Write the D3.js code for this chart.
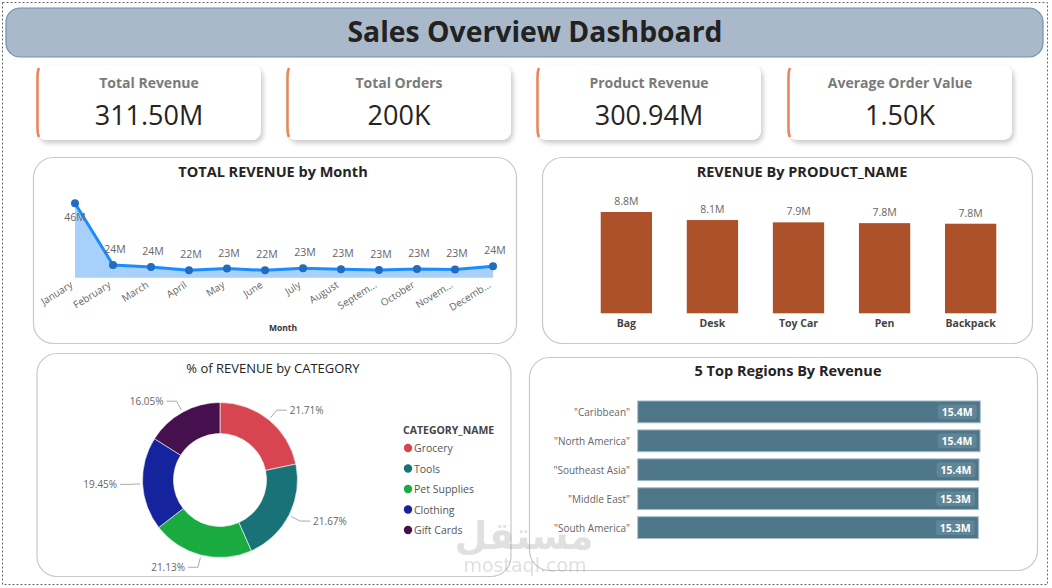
<!DOCTYPE html>
<html><head><meta charset="utf-8">
<script src="https://cdn.jsdelivr.net/npm/d3@7"></script>
<style>
html,body{margin:0;padding:0;background:#fff;}
svg{display:block;font-family:"Open Sans","Noto Sans",sans-serif;}
</style></head>
<body><svg id="c" width="1052" height="588"></svg>
<script>
// ---------- DATA ----------
const kpiTitles = ["Total Revenue", "Total Orders", "Product Revenue", "Average Order Value"];
const kpiValues = ["311.50M", "200K", "300.94M", "1.50K"];

const months = ["January","February","March","April","May","June","July","August","Septem...","October","Novem...","Decemb..."];
const monthRevenue = [46.0, 24.3, 23.6, 22.4, 23.0, 22.4, 23.1, 22.8, 22.5, 22.9, 22.7, 23.8]; // millions

const products = ["Bag","Desk","Toy Car","Pen","Backpack"];
const productRevenue = [8.81, 8.11, 7.91, 7.84, 7.79]; // millions

const categories = ["Grocery","Tools","Pet Supplies","Clothing","Gift Cards"];
const categoryShare = [21.71, 21.67, 21.13, 19.45, 16.05]; // percent
const categoryColors = ["#d64550","#197278","#1aab40","#15239c","#46104f"];

const regions = ["\"Caribbean\"","\"North America\"","\"Southeast Asia\"","\"Middle East\"","\"South America\""];
const regionRevenue = [15.42, 15.41, 15.36, 15.34, 15.33]; // millions

// ---------- DRAW ----------
const svg = d3.select("#c");
const defs = svg.append("defs");
const sh = defs.append("filter").attr("id","shadow").attr("x","-10%").attr("y","-10%").attr("width","130%").attr("height","140%");
sh.append("feDropShadow").attr("dx",2).attr("dy",3).attr("stdDeviation",2.5).attr("flood-color","#000").attr("flood-opacity",0.22);

// outer dotted frame
svg.append("rect").attr("x",2.5).attr("y",2.5).attr("width",1045).attr("height",582)
  .attr("fill","none").attr("stroke","#666").attr("stroke-dasharray","2,2");

// title bar
svg.append("rect").attr("x",6).attr("y",8).attr("width",1037).attr("height",49).attr("rx",14)
  .attr("fill","#aab9c9").attr("stroke","#6f90b3").attr("stroke-width",1.2);
svg.append("text").attr("x",535).attr("y",42).attr("text-anchor","middle")
  .attr("font-size",28).attr("font-weight",700).attr("fill","#222").attr("textLength",375)
  .attr("lengthAdjust","spacingAndGlyphs").text("Sales Overview Dashboard");

// KPI cards
const cardX = [37, 287, 537, 788];
kpiTitles.forEach((t,i)=>{
  const g = svg.append("g").attr("transform",`translate(${cardX[i]},65)`);
  g.append("rect").attr("width",224).attr("height",75).attr("rx",9).attr("fill","#fff").attr("filter","url(#shadow)");
  g.append("path").attr("d","M2,3 Q0.5,6 0.5,12 L0.5,63 Q0.5,69 2,72").attr("fill","none").attr("stroke","#e8855a").attr("stroke-width",2.5);
  g.append("text").attr("x",112).attr("y",23).attr("text-anchor","middle").attr("font-size",14)
    .attr("font-weight",700).attr("fill","#7a7a7a").text(t);
  g.append("text").attr("x",112).attr("y",60).attr("text-anchor","middle").attr("font-size",27)
    .attr("fill","#252423").text(kpiValues[i]);
});

function panel(x,y,w,h){
  svg.append("rect").attr("x",x).attr("y",y).attr("width",w).attr("height",h).attr("rx",20)
    .attr("fill","#fff").attr("stroke","#c8c8c8").attr("stroke-width",1.2);
}
function title(x,y,t,bold,size){
  svg.append("text").attr("x",x).attr("y",y).attr("text-anchor","middle").attr("font-size",size||14.5)
    .attr("font-weight",bold?700:400).attr("fill","#252423").text(t);
}

// ---- Line / area chart ----
panel(33.5,157.5,483,186);
title(273,177,"TOTAL REVENUE by Month",true);
const xl = d3.scalePoint().domain(months).range([75,493]);
const yl = d3.scaleLinear().domain([19.8,46]).range([277.7,203.3]);
const area = d3.area().x((d,i)=>xl(months[i])).y0(yl(19.8)).y1(d=>yl(d));
const line = d3.line().x((d,i)=>xl(months[i])).y(d=>yl(d));
svg.append("path").datum(monthRevenue).attr("d",area).attr("fill","#a7d1fb");
svg.append("path").datum(monthRevenue).attr("d",line).attr("fill","none").attr("stroke","#1a8cff").attr("stroke-width",3);
svg.append("g").selectAll("circle").data(monthRevenue).join("circle")
  .attr("cx",(d,i)=>xl(months[i])).attr("cy",d=>yl(d)).attr("r",4).attr("fill","#1f6cc0");
svg.append("g").selectAll("text").data(monthRevenue).join("text")
  .attr("x",(d,i)=>i===0?xl(months[i]):xl(months[i])+2)
  .attr("y",(d,i)=>i===0?yl(d)+18:yl(d)-12)
  .attr("text-anchor","middle").attr("font-size",10.5).attr("fill","#666")
  .text(d=>Math.round(d)+"M");
const xAxis = svg.append("g").attr("transform","translate(0,277.7)")
  .call(d3.axisBottom(xl).tickSize(0).tickPadding(0));
xAxis.select(".domain").remove();
xAxis.selectAll("text").attr("font-size",10).attr("fill","#666").attr("font-family","Open Sans, sans-serif")
  .attr("text-anchor","end").attr("dy",0).attr("transform","translate(-2,9) rotate(-32)");
svg.append("text").attr("x",283).attr("y",331).attr("text-anchor","middle").attr("font-size",8.5)
  .attr("font-weight",700).attr("fill","#333").text("Month");

// ---- Product bar chart ----
panel(542.5,157.5,490,186);
title(802,177,"REVENUE By PRODUCT_NAME",true);
const xb = d3.scaleBand().domain(products).range([583.5,1013.5]).paddingInner(0.404).paddingOuter(0.2);
const yb = d3.scaleLinear().domain([0,8.81]).range([313.3,212]);
svg.append("g").selectAll("rect").data(productRevenue).join("rect")
  .attr("x",(d,i)=>xb(products[i])).attr("width",xb.bandwidth())
  .attr("y",d=>yb(d)).attr("height",d=>yb(0)-yb(d)).attr("fill","#ad512a");
svg.append("g").selectAll("text").data(productRevenue).join("text")
  .attr("x",(d,i)=>xb(products[i])+xb.bandwidth()/2).attr("y",d=>yb(d)-7)
  .attr("text-anchor","middle").attr("font-size",10.5).attr("fill","#666").text(d=>d.toFixed(1)+"M");
const bAxis = svg.append("g").attr("transform","translate(0,313.3)").call(d3.axisBottom(xb).tickSize(0).tickPadding(6));
bAxis.select(".domain").remove();
bAxis.selectAll("text").attr("font-size",10.5).attr("font-weight",700).attr("fill","#444").attr("font-family","Open Sans, sans-serif");

// ---- Donut ----
panel(37,353.5,474,223);
title(273,373,"% of REVENUE by CATEGORY",false,13);
const cx=220, cy=480;
const pie = d3.pie().sort(null).value(d=>d);
const arcs = pie(categoryShare);
const arc = d3.arc().innerRadius(46.5).outerRadius(77.5);
const dg = svg.append("g").attr("transform",`translate(${cx},${cy})`);
dg.selectAll("path").data(arcs).join("path").attr("d",arc)
  .attr("fill",(d,i)=>categoryColors[i]).attr("stroke","#fff").attr("stroke-width",0.6);
arcs.forEach(a=>{
  const m=(a.startAngle+a.endAngle)/2, s=Math.sin(m), c=-Math.cos(m);
  const p1=[s*80,c*80], p2=[s*90,c*90], dir = s>=0?1:-1, p3=[p2[0]+dir*10,p2[1]];
  dg.append("polyline").attr("points",[p1,p2,p3].map(p=>p.join(",")).join(" "))
    .attr("fill","none").attr("stroke","#aaa").attr("stroke-width",1);
  dg.append("text").attr("x",p3[0]+dir*3).attr("y",p3[1]+3.5).attr("text-anchor",dir>0?"start":"end")
    .attr("font-size",10).attr("fill","#666").text(a.data.toFixed(2)+"%");
});
svg.append("text").attr("x",403).attr("y",434).attr("font-size",10.5).attr("font-weight",700).attr("fill","#444").text("CATEGORY_NAME");
categories.forEach((c,i)=>{
  const y = 448 + i*20.5;
  svg.append("circle").attr("cx",408).attr("cy",y).attr("r",4.2).attr("fill",categoryColors[i]);
  svg.append("text").attr("x",414).attr("y",y+4).attr("font-size",10.5).attr("fill","#555").text(c);
});

// ---- Regions horizontal bars ----
panel(529.5,357.5,508,213);
title(788,376,"5 Top Regions By Revenue",true);
const yr = d3.scaleBand().domain(regions).range([397.5,542]).paddingInner(0.245).paddingOuter(0.12);
const xr = d3.scaleLinear().domain([0,15.42]).range([637.7,980.3]);
const rg = svg.append("g");
regions.forEach((r,i)=>{
  const y=yr(r), h=yr.bandwidth(), x1=xr(regionRevenue[i]);
  rg.append("rect").attr("x",xr(0)).attr("y",y).attr("width",x1-xr(0)).attr("height",h)
    .attr("fill","#4e7689").attr("stroke","#a9bccb").attr("stroke-width",1);
  rg.append("rect").attr("x",x1-42.5).attr("y",y+3.5).attr("width",39).attr("height",h-7).attr("rx",3)
    .attr("fill","#5f8597");
  rg.append("text").attr("x",x1-23).attr("y",y+h/2+4).attr("text-anchor","middle").attr("font-size",10.5)
    .attr("font-weight",700).attr("fill","#fff").text(regionRevenue[i].toFixed(1)+"M");
  rg.append("text").attr("x",630).attr("y",y+h/2+4).attr("text-anchor","end").attr("font-size",10)
    .attr("fill","#666").text(r);
});

// ---- watermark ----
svg.append("text").attr("x",524).attr("y",549).attr("text-anchor","middle").attr("font-size",38)
  .attr("font-weight",700).attr("font-family","DejaVu Sans, sans-serif").attr("fill","#9a9a9a").attr("opacity",0.3).text("مستقل");
svg.append("text").attr("x",525).attr("y",572).attr("text-anchor","middle").attr("font-size",19)
  .attr("font-family","DejaVu Sans, sans-serif").attr("fill","#9a9a9a").attr("opacity",0.3).text("mostaql.com");
</script></body></html>
